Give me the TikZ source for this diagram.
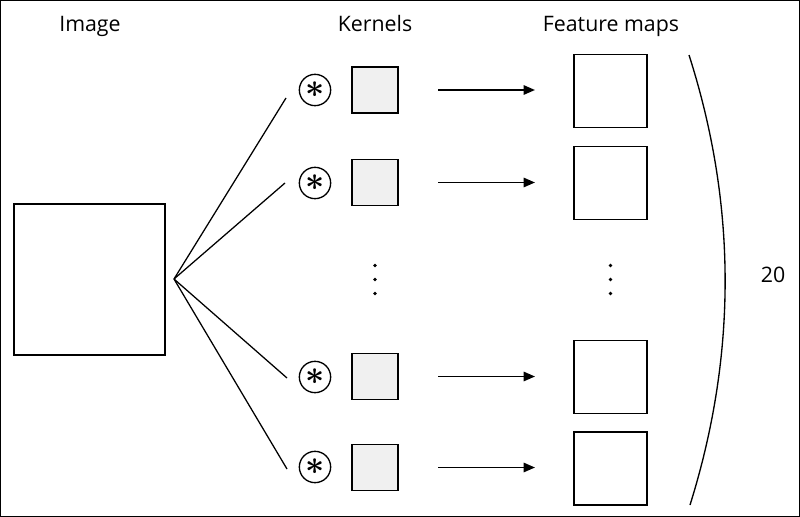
\documentclass[tikz,border=0pt]{standalone}
\usepackage{fontspec}
\setmainfont{Open Sans}
\usetikzlibrary{arrows.meta}
\begin{document}
\begin{tikzpicture}[x=0.75pt,y=-0.75pt,
  every node/.style={inner sep=0pt,outer sep=0pt},
  lbl/.style={anchor=base,font=\fontsize{16}{19}\selectfont},
  imgbox/.style={draw,line width=1pt,minimum size=113.25pt},
  kernbox/.style={draw,line width=1pt,fill=black!6,minimum size=34.5pt},
  featbox/.style={draw,line width=1pt,minimum size=54.75pt},
  conv/.style={draw,circle,line width=1pt,minimum size=23.5pt},
  link/.style={line width=0.95pt},
  arr/.style={line width=1.3pt,-{Triangle[length=8.5pt,width=7pt]}},
  dot/.style={fill,circle,minimum size=2.7pt}
]
\useasboundingbox (0,0) rectangle (800,517);
\draw[line width=0.75pt] (0.5,0.5) rectangle (799.5,516.5);

% labels
\node[lbl] (limg) at (90,31.5) {Image};
\node[lbl] (lker) at (375,31.5) {Kernels};
\node[lbl] (lfeat) at (611,31.5) {Feature maps};
\node[lbl] (lnum) at (773,282) {20};

% image
\node[imgbox] (img) at (89.5,279.5) {};
\coordinate (apex) at (174,279);

% conv circles
\node[conv] (c1) at (315,90) {\scalebox{2.5}{\boldmath$\ast$}};
\node[conv] (c2) at (315,183) {\scalebox{2.5}{\boldmath$\ast$}};
\node[conv] (c3) at (315,377) {\scalebox{2.5}{\boldmath$\ast$}};
\node[conv] (c4) at (315,467) {\scalebox{2.5}{\boldmath$\ast$}};

\coordinate (e1) at (286,98);
\coordinate (e2) at (285,183);
\coordinate (e3) at (287,378);
\coordinate (e4) at (287,469);
\draw[link] (apex) -- (e1);
\draw[link] (apex) -- (e2);
\draw[link] (apex) -- (e3);
\draw[link] (apex) -- (e4);

% kernels
\node[kernbox] (k1) at (375,90) {};
\node[kernbox] (k2) at (375,182.5) {};
\node[kernbox] (k3) at (375,376.5) {};
\node[kernbox] (k4) at (375,467.5) {};

% feature maps
\node[featbox] (f1) at (610.5,91) {};
\node[featbox] (f2) at (610.5,183) {};
\node[featbox] (f3) at (610.5,377) {};
\node[featbox] (f4) at (610.5,468.5) {};

% arrows
\draw[arr,shorten <=30pt,shorten >=29.25pt] (k1) -- (k1 -| f1.west);
\draw[arr,shorten <=30pt,shorten >=29.25pt] (k2) -- (k2 -| f2.west);
\draw[arr,shorten <=30pt,shorten >=29.25pt] (k3) -- (k3 -| f3.west);
\draw[arr,shorten <=30pt,shorten >=29.25pt] (k4) -- (k4 -| f4.west);

% dots
\node[dot] (kd1) at (375,265.5) {};
\node[dot] (kd2) at (375,279.5) {};
\node[dot] (kd3) at (375,293.5) {};
\node[dot] (fd1) at (610.5,265.5) {};
\node[dot] (fd2) at (610.5,279.5) {};
\node[dot] (fd3) at (610.5,293.5) {};

% brace arc
\coordinate (at) at (689,55);
\coordinate (ab) at (690,505);
\draw[line width=1pt] (at) .. controls (737,205) and (737,355) .. (ab);
\end{tikzpicture}
\end{document}
